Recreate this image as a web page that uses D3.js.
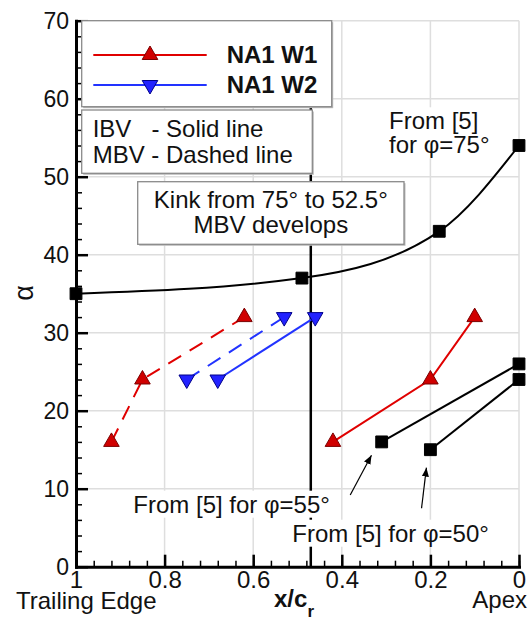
<!DOCTYPE html>
<html>
<head>
<meta charset="utf-8">
<script src="https://cdn.jsdelivr.net/npm/d3@7"></script>
<style>
  body { margin: 0; background: #fff; }
  svg text { font-family: "Liberation Sans", Arial, Helvetica, sans-serif; fill: #111; }
</style>
</head>
<body>
<div id="chart"></div>
<script>
// values (x/c_r, alpha in degrees)
var w1IbvX = [0.42, 0.2, 0.1],   w1IbvA = [16, 24, 32];
var w1MbvX = [0.92, 0.85, 0.62], w1MbvA = [16, 24, 32];
var w2IbvX = [0.68, 0.46],       w2IbvA = [24, 32];
var w2MbvX = [0.75, 0.53],       w2MbvA = [24, 32];
var phi75X = [1, 0.49, 0.18, 0], phi75A = [35, 37, 43, 54];
var phi55X = [0.31, 0],          phi55A = [16, 26];
var phi50X = [0.2, 0],           phi50A = [15, 24];
var kinkX = 0.47;

var xTicks = [1, 0.8, 0.6, 0.4, 0.2, 0];
var yTicks = [0, 10, 20, 30, 40, 50, 60, 70];
var legendNames = ["NA1 W1", "NA1 W2"];
var styleNote = ["IBV   - Solid line", "MBV - Dashed line"];
var kinkNote = ["Kink from 75\u00b0 to 52.5\u00b0", "MBV develops"];

// arrows: [from x, from a, to x, to a]
var arrow55 = [0.381, 9.2, 0.333, 14.3];
var arrow50 = [0.22, 7.5, 0.209, 12.7];

var red = "#e00000", redDark = "#7a0000";
var blue = "#2233ff", blueDark = "#000088";

var W = 528, H = 621;
var svg = d3.select("#chart").append("svg")
    .attr("width", W)
    .attr("height", H);

var x = d3.scaleLinear().domain([1, 0]).range([76, 519]);
var y = d3.scaleLinear().domain([0, 70]).range([566.7, 20.7]);

function pts(xs, as) { return xs.map(function(v, i) { return [v, as[i]]; }); }

// grid
var grid = svg.append("g");
grid.selectAll("line.gx")
  .data(xTicks.filter(function(d) { return d !== 1; }))
  .enter().append("line")
    .attr("x1", function(d) { return x(d); }).attr("x2", function(d) { return x(d); })
    .attr("y1", y(0)).attr("y2", y(70))
    .attr("stroke", "#dedede").attr("stroke-width", 1.5);
grid.selectAll("line.gy")
  .data(yTicks.filter(function(d) { return d !== 0; }))
  .enter().append("line")
    .attr("y1", function(d) { return y(d); }).attr("y2", function(d) { return y(d); })
    .attr("x1", x(1)).attr("x2", x(0))
    .attr("stroke", "#dedede").attr("stroke-width", 1.5);

// kink line
svg.append("line")
  .attr("x1", x(kinkX)).attr("x2", x(kinkX))
  .attr("y1", y(0)).attr("y2", y(70))
  .attr("stroke", "#000").attr("stroke-width", 2.5);

var line = d3.line().x(function(d) { return x(d[0]); }).y(function(d) { return y(d[1]); });
var curve = d3.line().curve(d3.curveMonotoneX)
  .x(function(d) { return x(d[0]); }).y(function(d) { return y(d[1]); });

function drawSeries(xs, as, color, dashed, smooth) {
  var data = pts(xs, as).sort(function(a, b) { return b[0] - a[0]; });
  svg.append("path")
    .datum(data)
    .attr("d", smooth ? curve : line)
    .attr("fill", "none")
    .attr("stroke", color)
    .attr("stroke-width", 2)
    .attr("stroke-dasharray", dashed ? "15,10" : null);
}

drawSeries(phi75X, phi75A, "#000", false, true);
drawSeries(phi55X, phi55A, "#000", false, false);
drawSeries(phi50X, phi50A, "#000", false, false);
drawSeries(w1MbvX, w1MbvA, red, true, false);
drawSeries(w1IbvX, w1IbvA, red, false, false);
drawSeries(w2MbvX, w2MbvA, blue, true, false);
drawSeries(w2IbvX, w2IbvA, blue, false, false);

var triUp = d3.symbol().type(d3.symbolTriangle).size(105);
var square = d3.symbol().type(d3.symbolSquare).size(140);

function drawMarkers(xs, as, sym, fill, stroke, flip) {
  svg.append("g").selectAll("path")
    .data(pts(xs, as))
    .enter().append("path")
      .attr("d", sym)
      .attr("transform", function(d) {
        return "translate(" + x(d[0]) + "," + y(d[1]) + ")" + (flip ? " rotate(180)" : "");
      })
      .attr("fill", fill)
      .attr("stroke", stroke)
      .attr("stroke-width", 1);
}

drawMarkers(phi75X, phi75A, square, "#000", "#000", false);
drawMarkers(phi55X, phi55A, square, "#000", "#000", false);
drawMarkers(phi50X, phi50A, square, "#000", "#000", false);
drawMarkers(w1MbvX, w1MbvA, triUp, "#d00000", redDark, false);
drawMarkers(w1IbvX, w1IbvA, triUp, "#d00000", redDark, false);
drawMarkers(w2MbvX, w2MbvA, triUp, "#2222ff", blueDark, true);
drawMarkers(w2IbvX, w2IbvA, triUp, "#2222ff", blueDark, true);

// axes with inward ticks
var minorX = d3.range(0, 1.0001, 0.04);
var minorY = d3.range(0, 70.001, 2);

svg.append("g")
  .attr("transform", "translate(0," + y(0) + ")")
  .call(d3.axisBottom(x).tickValues(minorX).tickSizeInner(-6).tickSizeOuter(0).tickFormat(""))
  .call(function(g) { g.select(".domain").remove(); g.selectAll("line").attr("stroke-width", 1.5); });
svg.append("g")
  .attr("transform", "translate(" + x(1) + ",0)")
  .call(d3.axisLeft(y).tickValues(minorY).tickSizeInner(-6).tickSizeOuter(0).tickFormat(""))
  .call(function(g) { g.select(".domain").remove(); g.selectAll("line").attr("stroke-width", 1.5); });

var xAxis = svg.append("g")
  .attr("transform", "translate(0," + y(0) + ")")
  .call(d3.axisBottom(x).tickValues(xTicks).tickSizeInner(-12).tickSizeOuter(0).tickPadding(4)
    .tickFormat(function(d) { return String(d); }));
var yAxis = svg.append("g")
  .attr("transform", "translate(" + x(1) + ",0)")
  .call(d3.axisLeft(y).tickValues(yTicks).tickSizeInner(-12).tickSizeOuter(0).tickPadding(7)
    .tickFormat(function(d) { return String(d); }));
[xAxis, yAxis].forEach(function(g) {
  g.select(".domain").attr("stroke-width", 3).attr("stroke-linecap", "square");
  g.selectAll(".tick line").attr("stroke-width", 2.5);
  g.selectAll(".tick text").attr("font-size", 24).attr("fill", "#111")
    .style("font-family", '"Liberation Sans", Arial, sans-serif');
});
yAxis.selectAll(".tick text").attr("font-size", 23);

// axis titles
svg.append("text").attr("x", 16).attr("y", 609).attr("font-size", 24).text("Trailing Edge");
svg.append("text").attr("x", 527).attr("y", 608).attr("font-size", 24)
  .attr("text-anchor", "end").text("Apex");
var xt = svg.append("text").attr("x", 274).attr("y", 607).attr("font-size", 24)
  .attr("font-weight", "bold").text("x/c");
xt.append("tspan").attr("font-size", 17).attr("dy", 10).text("r");
svg.append("text")
  .attr("transform", "translate(33,293) rotate(-90)")
  .attr("text-anchor", "middle").attr("font-size", 27).text("\u03b1");

// arrows
svg.append("defs").append("marker")
  .attr("id", "head").attr("viewBox", "0 -5 10 10")
  .attr("refX", 10).attr("refY", 0)
  .attr("markerWidth", 9).attr("markerHeight", 9)
  .attr("markerUnits", "userSpaceOnUse")
  .attr("orient", "auto")
  .append("path").attr("d", "M0,-4L10,0L0,4Z").attr("fill", "#000");
[arrow55, arrow50].forEach(function(a) {
  svg.append("line")
    .attr("x1", x(a[0])).attr("y1", y(a[1]))
    .attr("x2", x(a[2])).attr("y2", y(a[3]))
    .attr("stroke", "#000").attr("stroke-width", 1.2)
    .attr("marker-end", "url(#head)");
});

// text labels with white backing
function label(lines, px, py, gap, anchor) {
  var g = svg.append("g");
  var bg = g.append("rect").attr("fill", "#fff");
  var t = g.append("text").attr("font-size", 24).attr("text-anchor", anchor || "start");
  lines.forEach(function(s, i) {
    t.append("tspan").attr("x", px).attr("y", py + i * gap).text(s);
  });
  var b = t.node().getBBox();
  bg.attr("x", b.x - 1).attr("y", b.y).attr("width", b.width + 2).attr("height", b.height);
}
label(["From [5]", "for \u03c6=75\u00b0"], 389, 129.3, 24);
label(["From [5] for \u03c6=55\u00b0"], 133.3, 512.7, 0);
label(["From [5] for \u03c6=50\u00b0"], 292.3, 541.7, 0);

// boxes
function box(x0, y0, x1, y1) {
  svg.append("rect").attr("x", x0 + 1.5).attr("y", y0 + 1.5)
    .attr("width", x1 - x0).attr("height", y1 - y0).attr("fill", "#bbb");
  svg.append("rect").attr("x", x0).attr("y", y0)
    .attr("width", x1 - x0).attr("height", y1 - y0)
    .attr("fill", "#fff").attr("stroke", "#8a8a8a").attr("stroke-width", 1.3);
}

box(81.7, 20.7, 331.7, 106.7);
var legColors = [[red, "#d00000", redDark, false], [blue, "#2222ff", blueDark, true]];
legendNames.forEach(function(name, i) {
  var ly = 55 + i * 30;
  var c = legColors[i];
  svg.append("line").attr("x1", 93.3).attr("x2", 206.7).attr("y1", ly).attr("y2", ly)
    .attr("stroke", c[0]).attr("stroke-width", 2);
  svg.append("path").attr("d", triUp)
    .attr("transform", "translate(150," + ly + ")" + (c[3] ? " rotate(180)" : ""))
    .attr("fill", c[1]).attr("stroke", c[2]).attr("stroke-width", 1);
  svg.append("text").attr("x", 226.7).attr("y", ly + 8).attr("font-size", 24)
    .attr("font-weight", "bold").text(name);
});

box(81.7, 110, 312.3, 173.3);
styleNote.forEach(function(s, i) {
  svg.append("text").attr("x", 92.7).attr("y", 137.3 + i * 25.4).attr("font-size", 24)
    .style("white-space", "pre").text(s);
});

box(137.7, 181.7, 404, 244.3);
kinkNote.forEach(function(s, i) {
  svg.append("text").attr("x", 270.8).attr("y", 208.3 + i * 25).attr("font-size", 24)
    .attr("text-anchor", "middle").text(s);
});
</script>
</body>
</html>
